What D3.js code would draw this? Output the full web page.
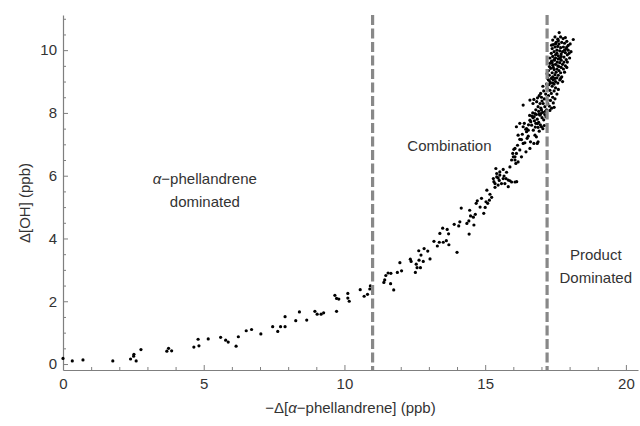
<!DOCTYPE html>
<html>
<head>
<meta charset="utf-8">
<script src="https://cdn.jsdelivr.net/npm/d3@7"></script>
<style>
body { margin: 0; background: #fff; }
text { font-family: "Liberation Sans", Arial, sans-serif; }
</style>
</head>
<body>
<div id="chart"></div>
<script>

// [-Δ alpha-phellandrene (ppb), Δ OH (ppb)]
const sparsePoints = [
  [0,0.18],[0.33,0.1],[0.71,0.13],[1.77,0.1],[2.4,0.16],[2.51,0.25],[2.52,0.31],[2.6,0.1],[2.77,0.46],
  [3.69,0.41],[3.75,0.5],[3.86,0.42],[4.65,0.54],[4.8,0.79],[4.83,0.58],[5.16,0.8],[5.6,0.85],[5.78,0.76],
  [5.87,0.7],[6.15,0.57],[6.23,0.87],[6.51,1.06],[6.7,1.1],[7.03,0.96],[7.45,1.19],[7.63,1.04],[7.73,1.19],
  [7.89,1.19],[7.89,1.51],[8.27,1.38],[8.4,1.66],[8.66,1.4],[8.95,1.68],[9.03,1.59],[9.17,1.59],[9.26,1.63],
  [9.66,2.19],[9.72,2.09],[9.72,1.68],[9.8,2.07],[10.12,2.25],[10.12,2.1],[10.17,2.0],[10.56,2.37],[10.7,2.16],
  [10.82,2.22],[10.9,2.39],[10.92,2.49]
];

const midPoints = [
  [11.4,2.6],[11.43,2.68],[11.47,2.82],[11.55,2.9],[11.65,2.89],[11.64,2.56],[11.75,2.36],[11.88,2.92],
  [11.97,3.23],[12.03,2.97],[12.34,3.34],[12.37,3.27],[12.52,2.92],[12.55,3.18],[12.58,3.07],[12.64,3.61],
  [12.65,3.31],[12.7,3.07],[12.72,3.47],[12.8,3.27],[12.83,3.68],[12.96,3.6],[13.04,3.35],[13.18,3.91],
  [13.3,3.76],[13.37,3.88],[13.39,4.16],[13.49,4.33],[13.51,3.88],[13.62,3.93],[13.65,4.29],[13.7,4.15],
  [13.71,3.8],[13.9,4.45],[14.0,3.56],[14.06,4.4],[14.1,4.53],[14.15,4.97],[14.35,4.48],[14.42,4.56],
  [14.43,4.14],[14.45,4.9],[14.48,4.72],[14.58,4.68],[14.6,4.43],[14.65,4.77],[14.68,5.12],[14.72,5.2],
  [14.82,5.0],[14.95,4.8],[15.0,4.99],[15.09,5.12],
  [14.87,5.28],[15.03,5.17],[15.06,5.54],[15.15,5.22],[15.17,5.41],[15.23,5.31],[15.29,5.91],[15.31,5.81],
  [15.35,5.63],[15.38,6.23],[15.41,6.07],[15.46,5.93],[15.5,5.85],[15.52,6.12],[15.58,5.75],[15.64,6.2],
  [15.67,5.99],[15.74,5.91],[15.76,6.11],[15.82,5.65],[15.88,5.84],[15.94,6.5],[15.98,6.71],[16.02,6.84],
  [16.06,6.6],[16.09,6.39],[16.12,5.81],[16.15,6.97],[16.17,6.44],[16.23,6.82],[16.23,7.16],[16.29,6.6],
  [16.32,7.32],[16.35,7.03],[16.39,7.67],[16.45,6.76],[16.47,7.5],[16.49,7.19],[16.53,7.45],[16.59,7.77],
  [16.61,7.08],[16.65,7.61],[16.69,8.0],[16.71,7.45],[16.74,7.88],[16.77,7.29],[16.8,7.67],[16.85,7.03],
  [16.88,7.54],[16.92,7.96],
  [16.35,8.25],[16.59,8.41],[16.73,8.43],[16.83,8.36],[16.77,7.98],[16.88,8.2],[16.95,7.93],[17.0,8.09],
  [17.06,8.3],[16.86,7.66],[17.0,7.56],[16.82,7.24],[16.88,7.08],[16.73,7.03],[16.59,6.87],[16.47,7.4],
  [16.35,7.56],[16.23,7.67],[16.11,7.56],[16.17,7.29],[16.29,7.15],[16.41,7.05],[16.53,7.26],[16.06,6.87],
  [16.0,6.6],[16.11,6.71],[15.88,6.28],[16.06,6.5],[15.64,5.91],[15.52,6.02],[15.7,5.75],[15.82,5.86],
  [15.41,5.96],[15.35,5.75],[15.46,5.7],[15.94,5.8],[16.06,5.8]
];

const clusterPoints = [
  [16.62,7.72],[16.7,7.85],[16.78,7.55],[16.85,7.8],[16.9,7.7],[16.96,7.62],[17.02,7.85],[17.08,7.78],
  [16.98,7.98],[17.12,7.95],[16.66,7.9],[16.54,7.62],[16.44,7.48],[16.92,7.42],[17.05,7.5],[16.75,7.75],
  [16.82,7.95],[17.16,7.88],[16.58,7.92],[17.1,7.6],
  [16.9,8.05],[16.98,8.15],[17.05,8.02],[17.12,8.2],[17.18,8.1],[17.22,8.3],[17.28,8.22],[17.32,8.4],
  [17.1,8.45],[17.0,8.5],[16.92,8.55],[17.15,8.6],[17.25,8.55],[17.35,8.62],[17.4,8.5],[17.3,8.72],
  [17.2,8.78],[17.08,8.7],[17.45,8.7],[17.5,8.8],[17.38,8.85],[17.26,8.9],[16.95,8.3],[17.02,8.38],
  [17.36,8.15],[17.42,8.32],[17.48,8.45],[16.8,8.1],[16.86,8.48],[17.14,8.05],[17.2,8.42],[17.3,8.08],
  [17.55,8.6],[17.4,8.95],[17.6,8.75],[17.18,8.92],[17.05,8.85],[16.7,8.3],[16.97,8.62],[17.45,8.18],
  [17.3,9.0],[17.35,9.1],[17.42,9.05],[17.5,9.0],[17.55,9.12],[17.6,9.2],[17.48,9.22],[17.38,9.28],
  [17.28,9.2],[17.25,9.35],[17.33,9.42],[17.45,9.38],[17.52,9.3],[17.62,9.35],[17.68,9.28],[17.7,9.45],
  [17.58,9.5],[17.5,9.55],[17.4,9.52],[17.3,9.58],[17.36,9.65],[17.46,9.68],[17.56,9.62],[17.65,9.6],
  [17.75,9.55],[17.78,9.4],[17.72,9.15],[17.65,9.05],[17.58,8.95],[17.45,8.92],[17.22,9.1],[17.32,8.95],
  [17.4,9.15],[17.55,9.4],[17.62,9.48],[17.42,9.45],[17.28,9.48],[17.8,9.62],[17.85,9.5],[17.7,9.68],
  [17.6,9.72],[17.5,9.75],[17.82,9.3],[17.9,9.45],[17.68,9.1],[17.25,9.05],[17.38,9.6],[17.75,9.0],
  [17.2,9.25],[17.48,9.1],
  [17.4,9.8],[17.5,9.85],[17.6,9.82],[17.7,9.8],[17.8,9.78],[17.88,9.7],[17.92,9.85],[17.85,9.92],
  [17.75,9.95],[17.65,9.98],[17.55,10.0],[17.45,9.95],[17.38,10.05],[17.48,10.1],[17.58,10.12],[17.68,10.08],
  [17.78,10.1],[17.88,10.05],[17.95,10.0],[17.98,9.9],[17.62,10.2],[17.72,10.25],[17.82,10.22],[17.52,10.25],
  [17.42,10.18],[17.36,10.16],[17.4,10.32],[17.58,10.35],[17.77,10.37],[17.63,10.56],[18.13,10.34],[17.9,10.28],
  [17.85,10.4],[17.68,10.42],[17.48,10.42],[17.95,10.15],[18.02,10.2],[18.05,9.95],[18.0,9.75],[17.92,9.62],
  [17.35,9.9],[17.45,9.7],[17.3,9.75],[17.55,9.9],[17.7,9.88],[17.82,10.0],[17.6,10.3],[17.5,10.2],
  [17.66,9.74],[17.9,10.1]
];

const xTicks = [0,5,10,15,20];
const yTicks = [0,2,4,6,8,10];
const xMinor = [1,2,3,4,6,7,8,9,11,12,13,14,16,17,18,19];
const yMinor = [0.5,1,1.5,2.5,3,3.5,4.5,5,5.5,6.5,7,7.5,8.5,9,9.5,10.5,11];
const regionBounds = [11.0, 17.2];

// annotation text and its anchor in data units
const regionText = [["α−phellandrene","dominated"],["Combination"],["Product","Dominated"]];
const regionAt = [[5.04,5.54],[13.73,6.95],[18.93,3.12]];

const svgWidth = 640, svgHeight = 426;
const xDomain = [0, 20.43], yDomain = [-0.19, 11.12];

const svg = d3.select("#chart").append("svg")
  .attr("width", svgWidth)
  .attr("height", svgHeight);

const xscale = d3.scaleLinear().domain(xDomain).range([63, 638]);
const yscale = d3.scaleLinear().domain(yDomain).range([370, 15]);

const axisGray = "#7f7f7f";
const textGray = "#333";

//minor ticks first
svg.append("g")
  .attr("transform", "translate(0," + yscale(yDomain[0]) + ")")
  .call(d3.axisBottom(xscale).tickValues(xMinor).tickSize(-3).tickSizeOuter(0).tickFormat(""))
  .call(g => g.select(".domain").remove());

svg.append("g")
  .attr("transform", "translate(" + xscale(0) + ",0)")
  .call(d3.axisLeft(yscale).tickValues(yMinor).tickSize(-3).tickSizeOuter(0).tickFormat(""))
  .call(g => g.select(".domain").remove());

const xAxis = svg.append("g")
  .attr("transform", "translate(0," + yscale(yDomain[0]) + ")")
  .call(d3.axisBottom(xscale).tickValues(xTicks).tickSize(-5).tickSizeOuter(0).tickPadding(8));

const yAxis = svg.append("g")
  .attr("transform", "translate(" + xscale(0) + ",0)")
  .call(d3.axisLeft(yscale).tickValues(yTicks).tickSize(-5).tickSizeOuter(0).tickPadding(6));

svg.selectAll(".tick line").attr("stroke", axisGray);
svg.selectAll(".domain").attr("stroke", axisGray).attr("stroke-width", 1.2);
svg.selectAll(".tick text")
  .attr("fill", textGray)
  .style("font-size", "15px")
  .style("font-family", "'Liberation Sans', Arial, sans-serif");

// axis titles
function italicAlpha(sel, str){
  const parts = str.split("α");
  parts.forEach(function(p, i){
    if (i > 0) sel.append("tspan").attr("font-style", "italic").text("α");
    if (p.length) sel.append("tspan").text(p);
  });
}

const xTitle = svg.append("text")
  .attr("x", (xscale.range()[0] + xscale.range()[1]) / 2)
  .attr("y", 413)
  .attr("text-anchor", "middle")
  .attr("fill", textGray)
  .style("font-size", "15px");
italicAlpha(xTitle, "−Δ[α−phellandrene] (ppb)");

svg.append("text")
  .attr("transform", "translate(30,203) rotate(-90)")
  .attr("text-anchor", "middle")
  .attr("fill", textGray)
  .style("font-size", "15px")
  .text("Δ[OH] (ppb)");

// data
const allPoints = sparsePoints.concat(midPoints, clusterPoints);

svg.append("g").selectAll("circle")
  .data(allPoints)
  .enter()
  .append("circle")
  .attr("cx", function(d){ return xscale(d[0]); })
  .attr("cy", function(d){ return yscale(d[1]); })
  .attr("r", 1.6)
  .style("fill", "#000");

// region dividers
svg.append("g").selectAll("line")
  .data(regionBounds)
  .enter()
  .append("line")
  .attr("x1", function(d){ return xscale(d); })
  .attr("x2", function(d){ return xscale(d); })
  .attr("y1", yscale(yDomain[1]))
  .attr("y2", yscale(yDomain[0]))
  .attr("stroke", "#888")
  .attr("stroke-width", 3.2)
  .attr("stroke-dasharray", "10,3.5");

// region labels
regionText.forEach(function(lines, i){
  const cx = xscale(regionAt[i][0]);
  const cy = yscale(regionAt[i][1]);
  const lineH = 23;
  lines.forEach(function(line, j){
    const t = svg.append("text")
      .attr("x", cx)
      .attr("y", cy + 5 + (j - (lines.length - 1) / 2) * lineH)
      .attr("text-anchor", "middle")
      .attr("fill", textGray)
      .style("font-size", "15px");
    italicAlpha(t, line);
  });
});

</script>
</body>
</html>
